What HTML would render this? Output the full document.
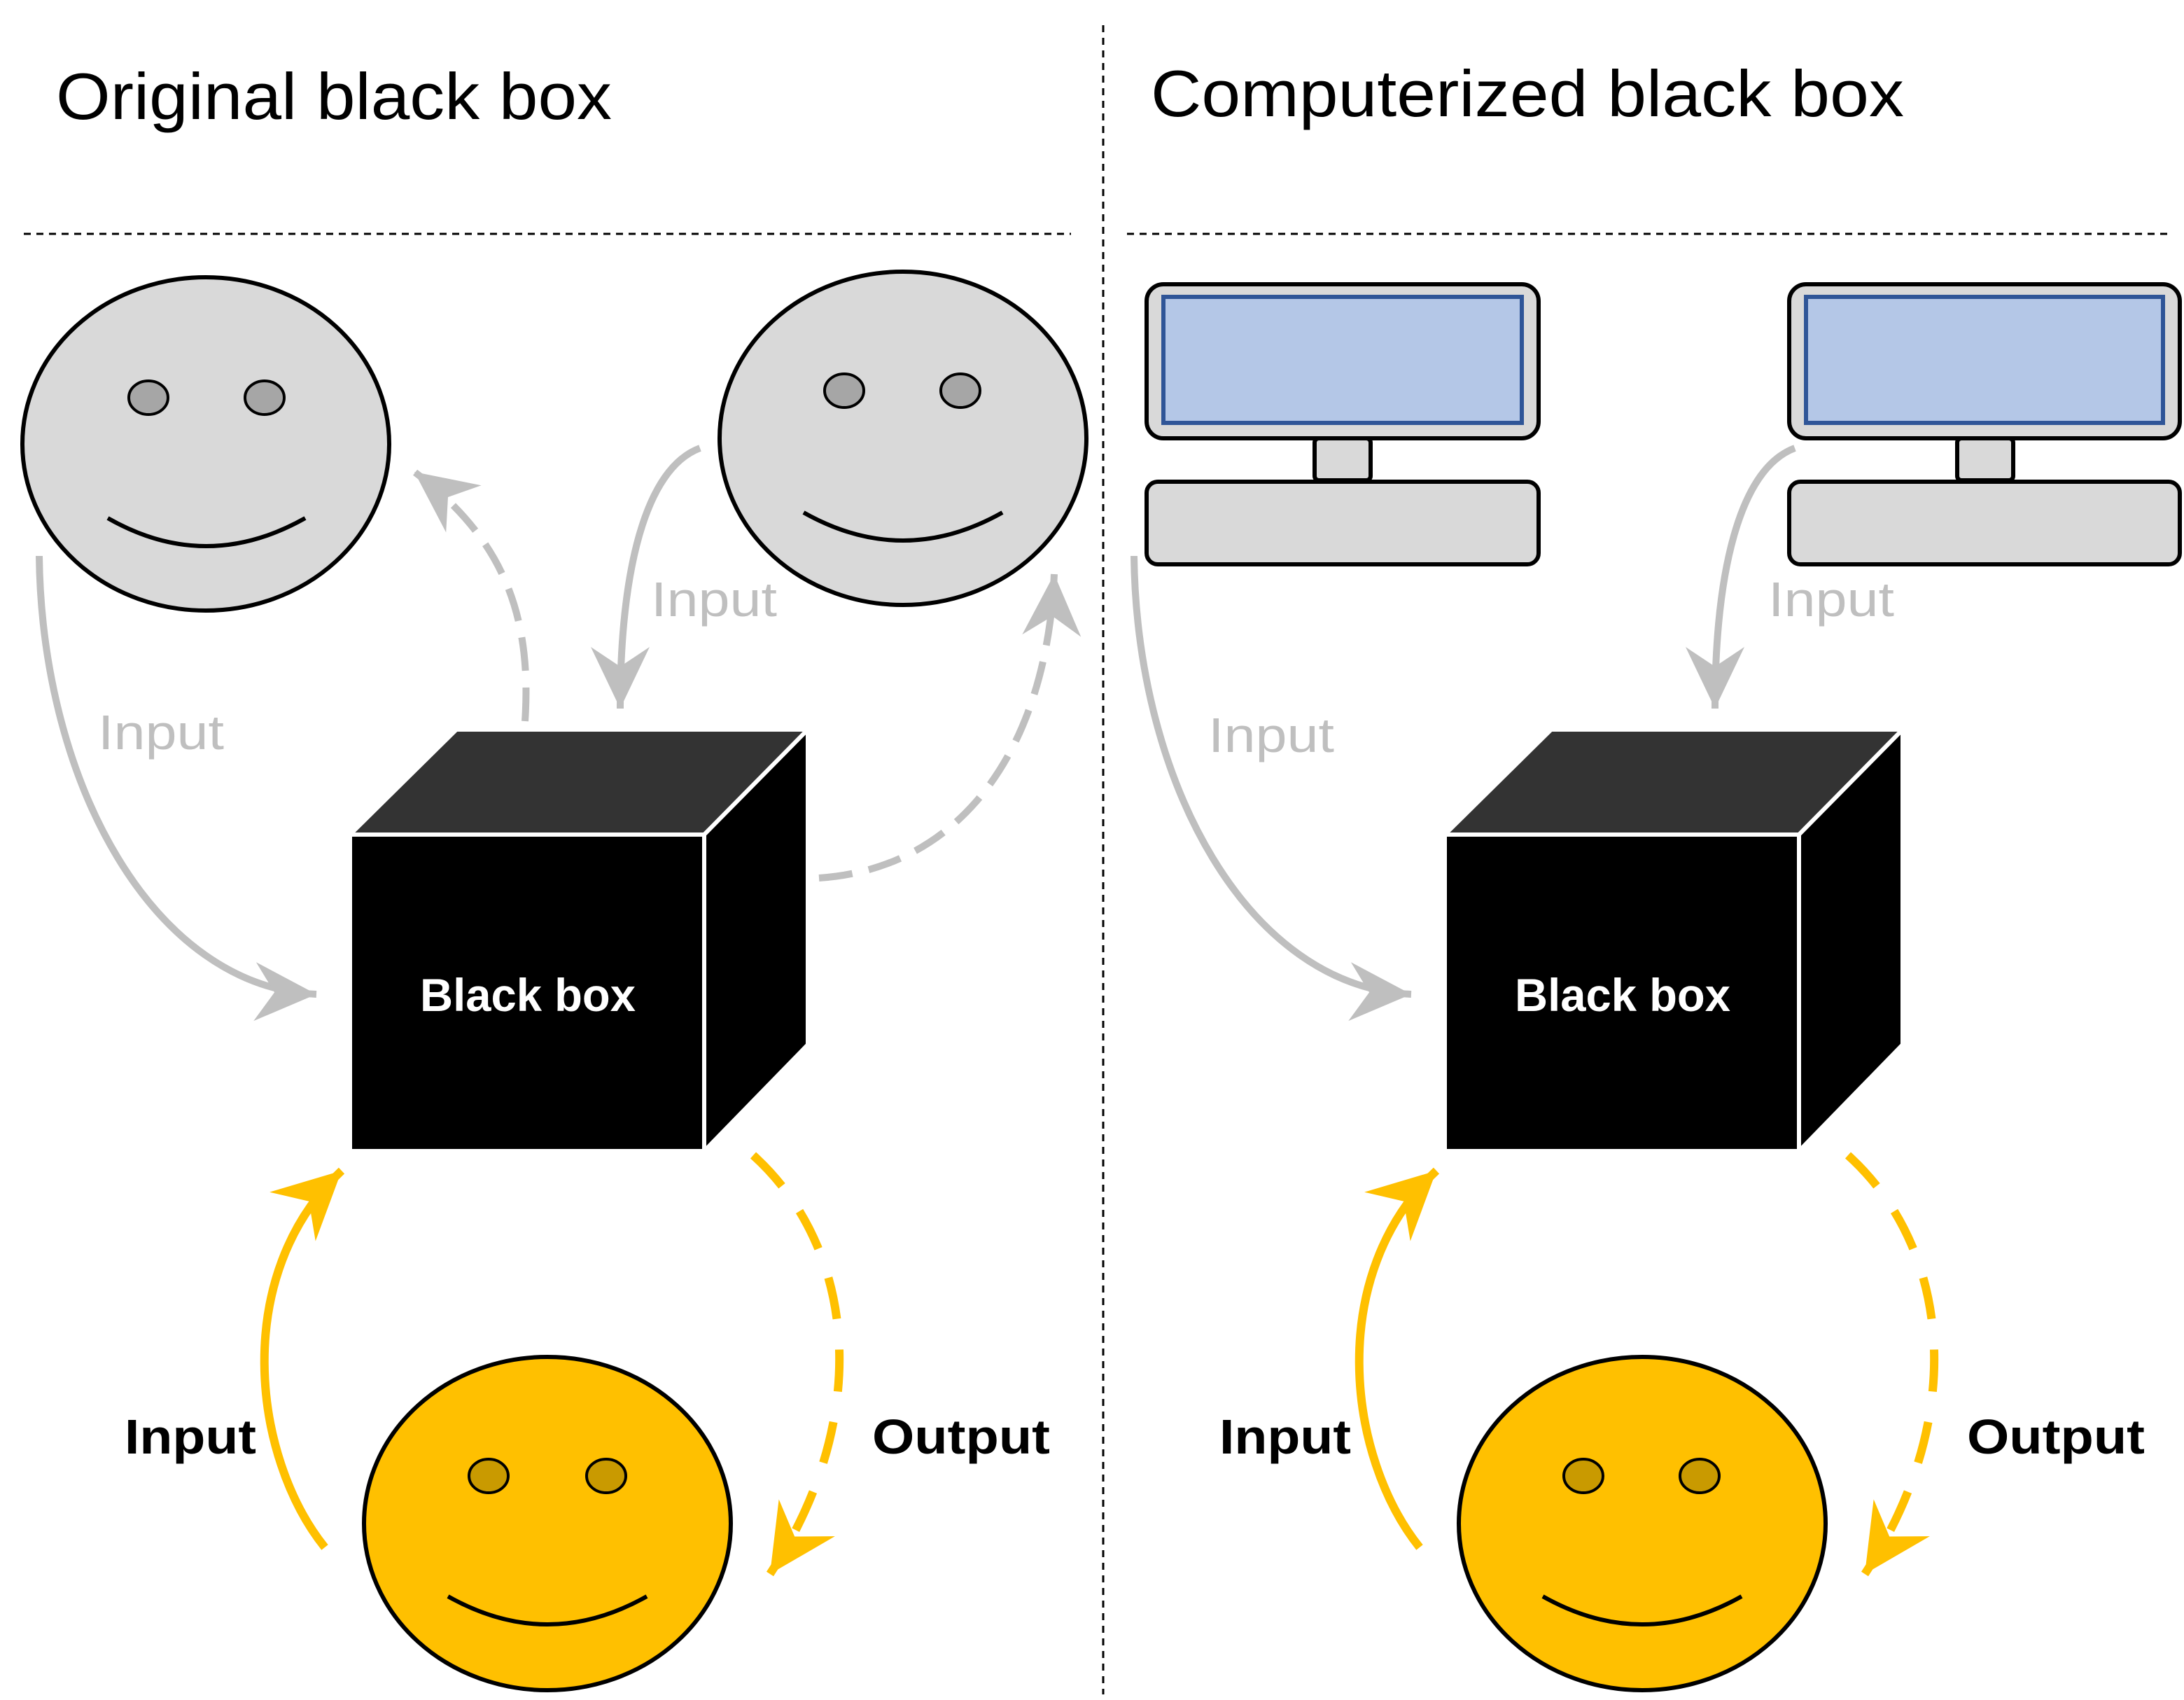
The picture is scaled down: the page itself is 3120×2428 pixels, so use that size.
<!DOCTYPE html>
<html><head><meta charset="utf-8"><style>
html,body{margin:0;padding:0;background:#fff;}
svg{display:block;}
text{font-family:"Liberation Sans",sans-serif;}
</style></head><body>
<svg width="3120" height="2428" viewBox="0 0 1560 1214" xmlns="http://www.w3.org/2000/svg">
<defs>
<marker id="ag" markerUnits="userSpaceOnUse" markerWidth="70" markerHeight="70" viewBox="-55 -35 70 70" refX="0" refY="0" orient="auto">
<path d="M0,0 L-44,-21 L-30,0 L-44,21 Z" fill="#bfbfbf"/>
</marker>
<marker id="ay" markerUnits="userSpaceOnUse" markerWidth="70" markerHeight="70" viewBox="-55 -35 70 70" refX="0" refY="0" orient="auto">
<path d="M0,0 L-48,-24 L-32,0 L-48,24 Z" fill="#ffc000"/>
</marker>
</defs>
<rect width="1560" height="1214" fill="#fff"/>
<text x="40" y="85" font-size="47" textLength="397" lengthAdjust="spacingAndGlyphs">Original black box</text>
<text x="822" y="83" font-size="47" textLength="538" lengthAdjust="spacingAndGlyphs">Computerized black box</text>
<line x1="17" y1="167" x2="765" y2="167" stroke="#000" stroke-width="1.5" stroke-dasharray="5,4"/>
<line x1="805" y1="167" x2="1552" y2="167" stroke="#000" stroke-width="1.5" stroke-dasharray="5,4"/>
<line x1="788" y1="18" x2="788" y2="1210" stroke="#000" stroke-width="1.5" stroke-dasharray="5,4"/>

<g stroke="#000" stroke-width="3">
<ellipse cx="147" cy="317" rx="131" ry="119" fill="#d9d9d9"/>
<ellipse cx="106" cy="284" rx="14" ry="12" fill="#a6a6a6" stroke-width="2"/>
<ellipse cx="189" cy="284" rx="14" ry="12" fill="#a6a6a6" stroke-width="2"/>
<path d="M77,370 Q147,410 218,370" fill="none"/>
<ellipse cx="645" cy="313" rx="131" ry="119" fill="#d9d9d9"/>
<ellipse cx="603" cy="279" rx="14" ry="12" fill="#a6a6a6" stroke-width="2"/>
<ellipse cx="686" cy="279" rx="14" ry="12" fill="#a6a6a6" stroke-width="2"/>
<path d="M574,366 Q645,406 716,366" fill="none"/>
<ellipse cx="391" cy="1088" rx="131" ry="119" fill="#ffc000"/>
<ellipse cx="349" cy="1054" rx="14" ry="12" fill="#c99a00" stroke-width="2"/>
<ellipse cx="433" cy="1054" rx="14" ry="12" fill="#c99a00" stroke-width="2"/>
<path d="M320,1140 Q391,1180 462,1140" fill="none"/>
<ellipse cx="1173" cy="1088" rx="131" ry="119" fill="#ffc000"/>
<ellipse cx="1131" cy="1054" rx="14" ry="12" fill="#c99a00" stroke-width="2"/>
<ellipse cx="1214" cy="1054" rx="14" ry="12" fill="#c99a00" stroke-width="2"/>
<path d="M1102,1140 Q1173,1180 1244,1140" fill="none"/>
</g>

<g stroke="#000" stroke-width="3" fill="#d9d9d9">
<rect x="819" y="203" width="280" height="110" rx="12"/>
<rect x="831" y="212" width="256" height="90" fill="#b4c7e7" stroke="#2f5597"/>
<rect x="939" y="313" width="40" height="30" rx="3"/>
<rect x="819" y="344" width="280" height="59" rx="8"/>
<rect x="1278" y="203" width="279" height="110" rx="12"/>
<rect x="1290" y="212" width="255" height="90" fill="#b4c7e7" stroke="#2f5597"/>
<rect x="1398" y="313" width="40" height="30" rx="3"/>
<rect x="1278" y="344" width="279" height="59" rx="8"/>
</g>

<g stroke="#fff" stroke-width="3" stroke-linejoin="round">
<polygon points="250,596 326,521 577,521 503,596" fill="#333"/>
<polygon points="503,596 577,521 577,746 503,822" fill="#000"/>
<rect x="250" y="596" width="253" height="226" fill="#000"/>
<polygon points="1032,596 1108,521 1359,521 1285,596" fill="#333"/>
<polygon points="1285,596 1359,521 1359,746 1285,822" fill="#000"/>
<rect x="1032" y="596" width="253" height="226" fill="#000"/>
</g>
<text x="300" y="722" font-size="33" font-weight="bold" fill="#fff" textLength="154" lengthAdjust="spacingAndGlyphs">Black box</text>
<text x="1082" y="722" font-size="33" font-weight="bold" fill="#fff" textLength="154" lengthAdjust="spacingAndGlyphs">Black box</text>

<g fill="none" stroke="#bfbfbf" stroke-width="5">
<path d="M28,397 C30,560 110,705 226,710" marker-end="url(#ag)"/>
<path d="M375,515 C380,440 360,385 296,337" stroke-dasharray="24,12" marker-end="url(#ag)"/>
<path d="M500,320 C460,335 443,410 443,506" marker-end="url(#ag)"/>
<path d="M585,627 C690,620 748,530 753,410" stroke-dasharray="24,12" marker-end="url(#ag)"/>
<path d="M810,397 C812,560 892,705 1008,710" marker-end="url(#ag)"/>
<path d="M1282,320 C1242,335 1225,410 1225,506" marker-end="url(#ag)"/>
</g>
<g font-size="35" fill="#bfbfbf">
<text x="70" y="535" textLength="90" lengthAdjust="spacingAndGlyphs">Input</text>
<text x="465" y="440" textLength="90" lengthAdjust="spacingAndGlyphs">Input</text>
<text x="863" y="537" textLength="90" lengthAdjust="spacingAndGlyphs">Input</text>
<text x="1263" y="440" textLength="90" lengthAdjust="spacingAndGlyphs">Input</text>
</g>

<g fill="none" stroke="#ffc000" stroke-width="6">
<path d="M232,1105 C180,1040 165,910 244,836" marker-end="url(#ay)"/>
<path d="M538,825 C610,890 625,1010 550,1124" stroke-dasharray="30,22" marker-end="url(#ay)"/>
<path d="M1014,1105 C962,1040 947,910 1026,836" marker-end="url(#ay)"/>
<path d="M1320,825 C1392,890 1407,1010 1332,1124" stroke-dasharray="30,22" marker-end="url(#ay)"/>
</g>
<g font-size="35" font-weight="bold" fill="#000">
<text x="89" y="1038" textLength="94" lengthAdjust="spacingAndGlyphs">Input</text>
<text x="623" y="1038" textLength="127" lengthAdjust="spacingAndGlyphs">Output</text>
<text x="871" y="1038" textLength="94" lengthAdjust="spacingAndGlyphs">Input</text>
<text x="1405" y="1038" textLength="127" lengthAdjust="spacingAndGlyphs">Output</text>
</g>
</svg>
</body></html>
